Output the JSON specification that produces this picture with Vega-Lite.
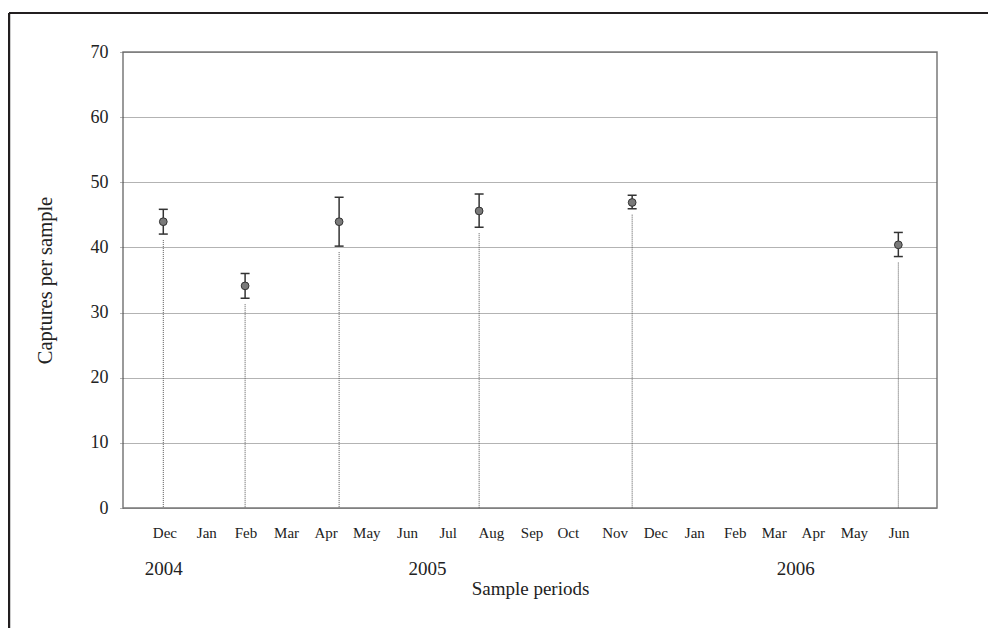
{
  "$schema": "https://vega.github.io/schema/vega-lite/v6.json",
  "autosize": "none",
  "width": 814,
  "height": 456,
  "padding": {"left": 123, "top": 52, "right": 51, "bottom": 120},
  "background": "white",
  "config": {
    "font": "Liberation Serif",
    "view": {"stroke": "#7a7a7a", "strokeWidth": 1.5},
    "axis": {"labelFont": "Liberation Serif", "titleFont": "Liberation Serif", "titleFontWeight": "normal", "labelColor": "#222", "titleColor": "#222"}
  },
  "datasets": {
    "samples": [
      {"t": -0.01, "mean": 43.95, "lo": 42.05, "hi": 45.85},
      {"t": 2.0, "mean": 34.1, "lo": 32.2, "hi": 36.0},
      {"t": 4.31, "mean": 43.95, "lo": 40.2, "hi": 47.7},
      {"t": 7.75, "mean": 45.6, "lo": 43.1, "hi": 48.2},
      {"t": 11.51, "mean": 46.9, "lo": 45.95, "hi": 48.0},
      {"t": 18.05, "mean": 40.4, "lo": 38.6, "hi": 42.3}
    ],
    "months": [
      {"m": "Dec", "t": 0.03}, {"m": "Jan", "t": 1.06}, {"m": "Feb", "t": 2.02},
      {"m": "Mar", "t": 3.02}, {"m": "Apr", "t": 3.99}, {"m": "May", "t": 4.99},
      {"m": "Jun", "t": 5.99}, {"m": "Jul", "t": 6.99}, {"m": "Aug", "t": 8.05},
      {"m": "Sep", "t": 9.05}, {"m": "Oct", "t": 9.94}, {"m": "Nov", "t": 11.09},
      {"m": "Dec", "t": 12.09}, {"m": "Jan", "t": 13.05}, {"m": "Feb", "t": 14.04},
      {"m": "Mar", "t": 15.0}, {"m": "Apr", "t": 15.96}, {"m": "May", "t": 16.97},
      {"m": "Jun", "t": 18.07}
    ],
    "years": [
      {"y": "2004", "t": 0.0},
      {"y": "2005", "t": 6.48},
      {"y": "2006", "t": 15.53}
    ]
  },
  "layer": [
    {
      "data": {"name": "samples"},
      "mark": {"type": "rule", "color": "#555", "strokeWidth": 1, "strokeDash": [1, 1], "yOffset": 6},
      "encoding": {
        "x": {
          "field": "t", "type": "quantitative",
          "scale": {"domain": [-1, 19], "nice": false, "zero": false},
          "axis": {"labels": false, "ticks": false, "domain": false, "grid": false, "title": "Sample periods", "titleFontSize": 19, "titlePadding": 71}
        },
        "y": {
          "field": "lo", "type": "quantitative",
          "scale": {"domain": [0, 70], "nice": false},
          "axis": {
            "title": "Captures per sample", "titleFontSize": 20.5, "titlePadding": 35,
            "values": [0, 10, 20, 30, 40, 50, 60, 70], "format": "d",
            "labelFontSize": 18, "labelPadding": 11,
            "domain": false, "tickSize": 4, "tickColor": "#666", "tickDash": [1, 1],
            "grid": true, "gridColor": "#666", "gridDash": [1, 1], "gridWidth": 1, "gridOpacity": 1
          }
        },
        "y2": {"datum": 0}
      }
    },
    {
      "data": {"name": "samples"},
      "mark": {"type": "rule", "color": "#333", "strokeWidth": 1.5},
      "encoding": {
        "x": {"field": "t", "type": "quantitative"},
        "y": {"field": "lo", "type": "quantitative"},
        "y2": {"field": "hi"}
      }
    },
    {
      "data": {"name": "samples"},
      "mark": {"type": "tick", "orient": "horizontal", "color": "#333", "size": 9, "thickness": 1.5, "opacity": 1},
      "encoding": {
        "x": {"field": "t", "type": "quantitative"},
        "y": {"field": "hi", "type": "quantitative"}
      }
    },
    {
      "data": {"name": "samples"},
      "mark": {"type": "tick", "orient": "horizontal", "color": "#333", "size": 9, "thickness": 1.5, "opacity": 1},
      "encoding": {
        "x": {"field": "t", "type": "quantitative"},
        "y": {"field": "lo", "type": "quantitative"}
      }
    },
    {
      "data": {"name": "samples"},
      "mark": {"type": "circle", "size": 60, "fill": "#7a7a7a", "stroke": "#333", "strokeWidth": 1, "opacity": 1},
      "encoding": {
        "x": {"field": "t", "type": "quantitative"},
        "y": {"field": "mean", "type": "quantitative"}
      }
    },
    {
      "data": {"name": "months"},
      "mark": {"type": "text", "font": "Liberation Serif", "fontSize": 15, "color": "#222", "baseline": "middle", "align": "center", "dy": 25},
      "encoding": {
        "x": {"field": "t", "type": "quantitative"},
        "y": {"datum": 0, "type": "quantitative"},
        "text": {"field": "m"}
      }
    },
    {
      "data": {"name": "years"},
      "mark": {"type": "text", "font": "Liberation Serif", "fontSize": 19, "color": "#222", "baseline": "middle", "align": "center", "dy": 61},
      "encoding": {
        "x": {"field": "t", "type": "quantitative"},
        "y": {"datum": 0, "type": "quantitative"},
        "text": {"field": "y"}
      }
    },
    {
      "data": {"name": "samples"},
      "mark": {"type": "rule", "color": "#231f20", "strokeWidth": 2},
      "encoding": {
        "x": {"datum": -3.8, "type": "quantitative"},
        "x2": {"datum": 20.3},
        "y": {"datum": 76, "type": "quantitative"}
      }
    },
    {
      "data": {"name": "samples"},
      "mark": {"type": "rule", "color": "#231f20", "strokeWidth": 2},
      "encoding": {
        "x": {"datum": -3.8, "type": "quantitative"},
        "y": {"datum": 76, "type": "quantitative"},
        "y2": {"datum": -19}
      }
    }
  ]
}
